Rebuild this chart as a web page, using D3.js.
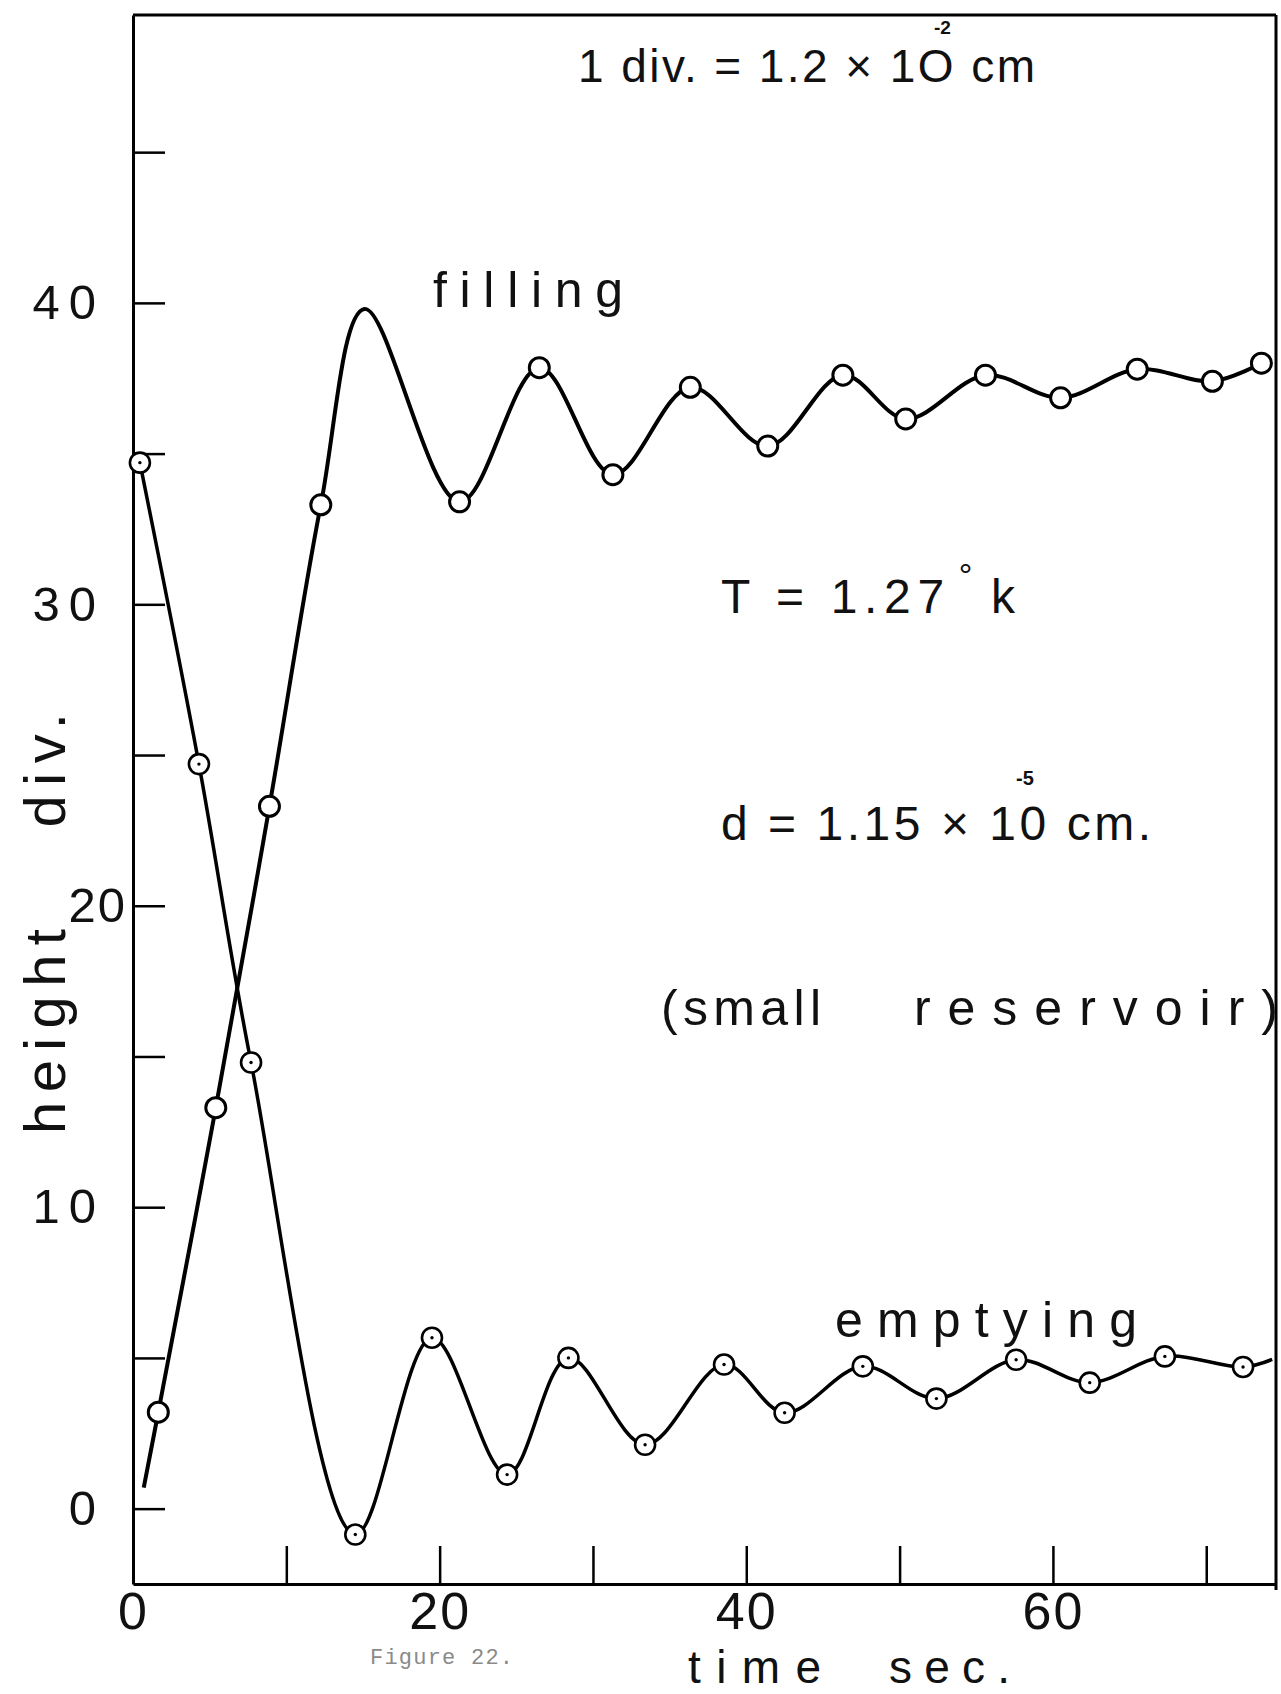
<!DOCTYPE html>
<html>
<head>
<meta charset="utf-8">
<script src="https://cdn.jsdelivr.net/npm/d3@7"></script>
<style>
body { margin: 0; background: #fff; }
svg text { font-family: "Liberation Sans", "DejaVu Sans", sans-serif; fill: #111; }
</style>
</head>
<body>
<div id="chart"></div>
<script>
// filling: measured points (open circles)
var fillTime   = [1.65, 5.4, 8.9, 12.25, 21.3, 26.5, 31.3, 36.35, 41.4, 46.3, 50.4, 55.6, 60.5, 65.5, 70.4, 73.6];
var fillHeight = [3.2, 13.3, 23.3, 33.3, 33.4, 37.85, 34.3, 37.2, 35.25, 37.6, 36.15, 37.6, 36.85, 37.8, 37.4, 38.0];
// places where the drawn curve goes with no marker (start and first peak)
var fillExtraTime   = [0.7, 15.1];
var fillExtraHeight = [0.7, 39.8];

// emptying: measured points (circles with a dot)
var emptyTime   = [0.45, 4.3, 7.7, 14.5, 19.5, 24.4, 28.4, 33.4, 38.55, 42.5, 47.6, 52.4, 57.6, 62.4, 67.3, 72.4];
var emptyHeight = [34.7, 24.7, 14.8, -0.86, 5.67, 1.13, 5.0, 2.12, 4.78, 3.18, 4.72, 3.65, 4.94, 4.18, 5.05, 4.7];
var emptyExtraTime   = [74.3];
var emptyExtraHeight = [4.95];

var xTicks = [0, 10, 20, 30, 40, 50, 60, 70];
var xLabels = [0, 20, 40, 60];
var yTicks = [0, 5, 10, 15, 20, 25, 30, 35, 40, 45];
var yLabels = [0, 10, 20, 30, 40];

var svgWidth = 1281;
var svgHeight = 1694;
var xMax = 74.55;
var yMin = -2.5;
var yMax = 49.55;

var svg = d3.select("#chart")
    .append("svg")
    .attr("width", svgWidth)
    .attr("height", svgHeight);

var xScale = d3.scaleLinear()
    .domain([0, xMax])
    .range([133, 1276]);
var yScale = d3.scaleLinear()
    .domain([yMin, yMax])
    .range([1584, 15]);

function pairs(t, h) {
    return t.map((d, i) => ({t: d, h: h[i]}));
}
function withExtra(t, h, et, eh) {
    return pairs(t, h).concat(pairs(et, eh)).sort((a, b) => a.t - b.t);
}

// axes
var yAxisCall = d3.axisLeft(yScale)
    .tickValues(yTicks)
    .tickSizeInner(-32)
    .tickSizeOuter(0)
    .tickPadding(28)
    .tickFormat(d => yLabels.includes(d) ? d : "");
var xAxisCall = d3.axisBottom(xScale)
    .tickValues(xTicks)
    .tickSizeInner(-38)
    .tickSizeOuter(0)
    .tickPadding(8)
    .tickFormat(d => xLabels.includes(d) ? d : "");

var yAxisGroup = svg.append("g")
    .attr("transform", `translate(${xScale(0)},0)`)
    .call(yAxisCall)
    .attr("font-size", null)
    .attr("font-family", null);
var xAxisGroup = svg.append("g")
    .attr("transform", `translate(0,${yScale(yMin)})`)
    .call(xAxisCall)
    .attr("font-size", null)
    .attr("font-family", null);

yAxisGroup.select(".domain").attr("stroke-width", 3);
xAxisGroup.select(".domain").attr("stroke-width", 3);
yAxisGroup.selectAll(".tick line").attr("stroke-width", 2.5);
xAxisGroup.selectAll(".tick line").attr("stroke-width", 2.5);
yAxisGroup.selectAll(".tick text")
    .attr("font-size", 49)
    .attr("letter-spacing", "9px");
// the "20" sits closer to the axis, between the two words of the axis title
yAxisGroup.selectAll(".tick text")
    .filter(d => d === 20)
    .attr("dx", 22)
    .attr("letter-spacing", "2px");
xAxisGroup.selectAll(".tick text")
    .attr("font-size", 52)
    .attr("letter-spacing", "2px");

// frame top and right
svg.append("line")
    .attr("x1", xScale(0)).attr("y1", yScale(yMax))
    .attr("x2", xScale(xMax)).attr("y2", yScale(yMax))
    .attr("stroke", "#000").attr("stroke-width", 3);
svg.append("line")
    .attr("x1", xScale(xMax)).attr("y1", yScale(yMax))
    .attr("x2", xScale(xMax)).attr("y2", yScale(yMin) + 6)
    .attr("stroke", "#000").attr("stroke-width", 3);

// curves
var line = d3.line()
    .x(d => xScale(d.t))
    .y(d => yScale(d.h))
    .curve(d3.curveCatmullRom.alpha(0.5));

svg.append("path")
    .datum(withExtra(fillTime, fillHeight, fillExtraTime, fillExtraHeight))
    .attr("d", line)
    .attr("fill", "none")
    .attr("stroke", "#000")
    .attr("stroke-width", 4)
    .attr("stroke-linejoin", "round");

svg.append("path")
    .datum(withExtra(emptyTime, emptyHeight, emptyExtraTime, emptyExtraHeight))
    .attr("d", line)
    .attr("fill", "none")
    .attr("stroke", "#000")
    .attr("stroke-width", 3.5)
    .attr("stroke-linejoin", "round");

// markers
svg.append("g").selectAll("circle")
    .data(pairs(fillTime, fillHeight))
    .enter()
    .append("circle")
    .attr("cx", d => xScale(d.t))
    .attr("cy", d => yScale(d.h))
    .attr("r", 10)
    .attr("fill", "#fff")
    .attr("stroke", "#000")
    .attr("stroke-width", 3);

var emptyMarks = svg.append("g").selectAll("g")
    .data(pairs(emptyTime, emptyHeight))
    .enter()
    .append("g")
    .attr("transform", d => `translate(${xScale(d.t)},${yScale(d.h)})`);
emptyMarks.append("circle")
    .attr("r", 10)
    .attr("fill", "#fff")
    .attr("stroke", "#000")
    .attr("stroke-width", 2.6);
emptyMarks.append("circle")
    .attr("r", 1.7)
    .attr("fill", "#000");

// lettering
function label(txt, x, y, size, len) {
    var t = svg.append("text")
        .attr("x", x)
        .attr("y", y)
        .attr("font-size", size)
        .text(txt);
    if (len) t.attr("textLength", len).attr("lengthAdjust", "spacing");
    return t;
}

label("1 div. = 1.2 × 1O cm", 578, 82, 46, 457);
label("-2", 934, 34, 19).attr("font-weight", "bold");
label("filling", 433, 307, 50, 190);

var tempText = svg.append("text")
    .attr("x", 721)
    .attr("y", 613)
    .attr("font-size", 48);
tempText.append("tspan").text("T = 1.27");
tempText.append("tspan").attr("dy", -26).attr("dx", 8).attr("font-size", 34).text("°");
tempText.append("tspan").attr("dy", 26).attr("dx", 12).text("k");
tempText.attr("textLength", 294).attr("lengthAdjust", "spacing");

label("d = 1.15 × 10 cm.", 721, 840, 48, 430);
label("-5", 1016, 785, 20).attr("font-weight", "bold");

var resText = svg.append("text")
    .attr("y", 1025)
    .attr("font-size", 50);
resText.append("tspan").attr("x", 661).attr("textLength", 160).attr("lengthAdjust", "spacing").text("(small");
resText.append("tspan").attr("x", 883).attr("textLength", 395).attr("lengthAdjust", "spacing").text(" reservoir)");

label("emptying", 835, 1337, 50, 302);

var timeText = svg.append("text")
    .attr("y", 1683)
    .attr("font-size", 46);
timeText.append("tspan").attr("x", 688).attr("textLength", 133).attr("lengthAdjust", "spacing").text("time");
timeText.append("tspan").attr("x", 864).attr("textLength", 146).attr("lengthAdjust", "spacing").text(" sec.");

label("Figure 22.", 370, 1664, 22, 143)
    .style("font-family", "'Liberation Mono', 'DejaVu Sans Mono', monospace")
    .style("fill", "#8a8a8a");

var yTitle = svg.append("text")
    .attr("transform", "translate(65,0) rotate(-90)")
    .attr("font-size", 58);
yTitle.append("tspan").attr("x", -1134).attr("textLength", 205).attr("lengthAdjust", "spacing").text("height");
yTitle.append("tspan").attr("x", -853).attr("textLength", 140).attr("lengthAdjust", "spacing").text(" div.");
</script>
</body>
</html>
